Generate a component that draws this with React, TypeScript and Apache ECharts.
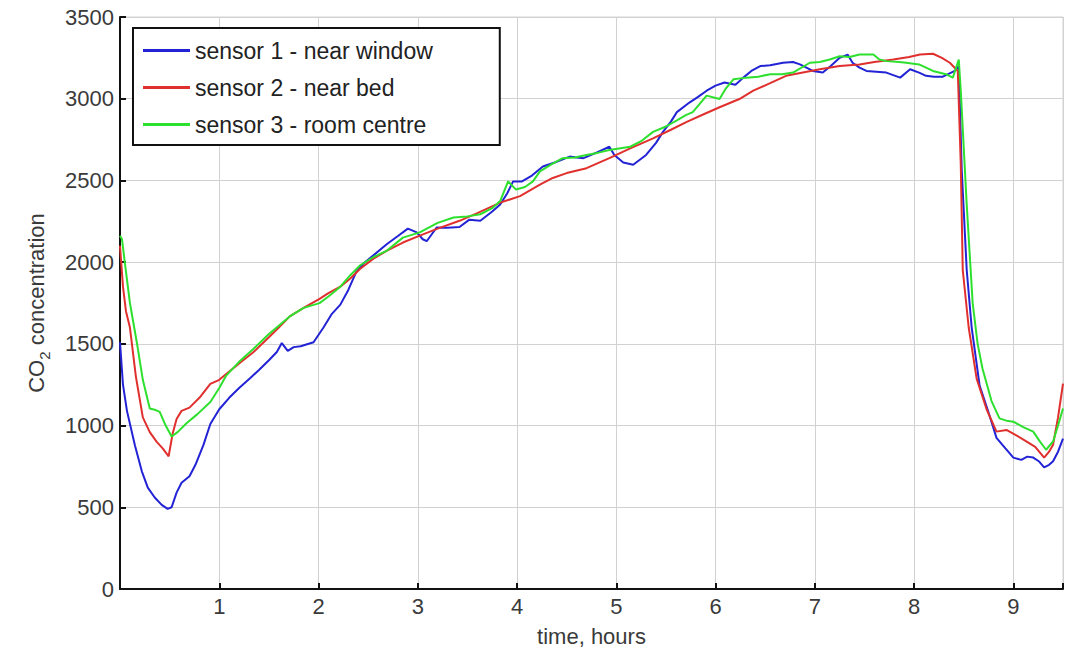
import React, { useEffect, useRef } from "react";
import * as echarts from "echarts";

const seriesNames = ["sensor 1 - near window", "sensor 2 - near bed", "sensor 3 - room centre"];
const seriesColors = ["#2323d6", "#e0302e", "#2ee02e"];

const hours1 = [0.00,0.03,0.07,0.15,0.22,0.28,0.35,0.42,0.48,0.52,0.57,0.62,0.70,0.76,0.84,0.91,1.00,1.10,1.20,1.31,1.40,1.50,1.58,1.63,1.69,1.75,1.82,1.95,2.05,2.13,2.22,2.30,2.38,2.45,2.55,2.69,2.80,2.90,2.99,3.05,3.09,3.19,3.30,3.42,3.52,3.63,3.75,3.83,3.90,3.96,4.05,4.15,4.26,4.38,4.53,4.60,4.67,4.80,4.93,4.98,5.07,5.17,5.30,5.40,5.47,5.55,5.61,5.74,5.82,5.91,6.00,6.09,6.20,6.28,6.36,6.45,6.55,6.68,6.78,6.85,6.98,7.08,7.16,7.25,7.33,7.38,7.45,7.52,7.62,7.72,7.86,7.96,8.05,8.12,8.20,8.29,8.41,8.45,8.48,8.53,8.58,8.66,8.75,8.83,8.92,9.00,9.08,9.14,9.20,9.26,9.31,9.36,9.40,9.45,9.50];
const co2Sensor1 = [1510,1250,1090,880,720,620,560,515,490,500,590,650,690,760,880,1010,1100,1170,1230,1290,1340,1400,1450,1505,1457,1480,1485,1510,1600,1680,1740,1830,1940,1990,2040,2111,2160,2205,2182,2140,2128,2212,2210,2215,2260,2253,2310,2353,2420,2494,2494,2530,2585,2610,2646,2640,2636,2670,2706,2656,2610,2596,2656,2730,2797,2860,2918,2978,3010,3049,3080,3099,3085,3129,3170,3200,3205,3220,3225,3210,3170,3160,3200,3250,3270,3220,3190,3170,3165,3160,3129,3180,3160,3140,3135,3135,3170,3200,2560,1952,1600,1245,1080,925,860,804,790,810,804,780,744,760,782,840,920];

const hours2 = [0.00,0.03,0.06,0.10,0.16,0.23,0.30,0.37,0.43,0.49,0.53,0.57,0.62,0.70,0.80,0.91,1.00,1.07,1.20,1.34,1.50,1.60,1.71,1.85,2.01,2.10,2.22,2.32,2.42,2.55,2.69,2.85,3.02,3.20,3.42,3.60,3.83,4.03,4.23,4.36,4.50,4.70,4.93,5.14,5.37,5.55,5.71,5.88,6.04,6.24,6.38,6.55,6.71,6.88,7.05,7.25,7.45,7.60,7.79,7.95,8.06,8.19,8.28,8.36,8.44,8.47,8.49,8.55,8.63,8.73,8.83,8.93,9.03,9.13,9.22,9.31,9.36,9.40,9.45,9.50];
const co2Sensor2 = [2100,1850,1700,1600,1300,1050,960,900,860,812,950,1040,1090,1110,1170,1255,1280,1316,1380,1447,1540,1600,1668,1720,1775,1810,1850,1900,1960,2020,2071,2120,2162,2205,2253,2300,2364,2404,2474,2515,2545,2575,2636,2696,2757,2810,2858,2905,2948,2998,3049,3095,3140,3160,3180,3200,3210,3225,3240,3255,3270,3275,3250,3220,3170,2600,1952,1600,1287,1100,963,973,940,903,870,804,840,883,1050,1257];

const hours3 = [0.00,0.02,0.05,0.10,0.17,0.23,0.30,0.36,0.40,0.46,0.52,0.58,0.67,0.78,0.91,1.00,1.07,1.20,1.34,1.50,1.71,1.85,2.01,2.10,2.22,2.32,2.42,2.55,2.69,2.85,3.02,3.20,3.36,3.50,3.63,3.75,3.83,3.91,3.99,4.08,4.16,4.23,4.35,4.46,4.58,4.70,4.82,4.93,5.14,5.25,5.37,5.50,5.61,5.70,5.77,5.91,6.04,6.10,6.18,6.31,6.43,6.55,6.67,6.78,6.95,7.05,7.15,7.25,7.35,7.45,7.59,7.65,7.72,7.85,7.92,8.05,8.12,8.19,8.32,8.39,8.45,8.47,8.53,8.59,8.64,8.69,8.78,8.86,8.93,9.00,9.10,9.20,9.27,9.33,9.40,9.45,9.50];
const co2Sensor3 = [2162,2140,1991,1750,1507,1280,1104,1095,1084,1000,933,960,1014,1070,1144,1230,1306,1390,1467,1560,1668,1720,1749,1790,1850,1920,1981,2030,2071,2150,2182,2240,2273,2280,2293,2330,2374,2494,2444,2460,2494,2555,2600,2636,2640,2656,2670,2686,2706,2740,2797,2830,2868,2900,2918,3019,2998,3060,3119,3129,3135,3150,3150,3160,3220,3225,3240,3260,3255,3270,3270,3240,3230,3225,3220,3210,3190,3170,3150,3129,3240,3050,2353,1749,1500,1346,1150,1044,1030,1024,990,963,900,852,903,1000,1104];

const allHours = [hours1, hours2, hours3];
const allValues = [co2Sensor1, co2Sensor2, co2Sensor3];

const FONT = "'Liberation Sans', Arial, Helvetica, sans-serif";

export default function App() {
  const ref = useRef<HTMLDivElement>(null);
  useEffect(() => {
    if (!ref.current) return;
    const chart = echarts.init(ref.current, null, { renderer: "svg" });
    chart.setOption({
      animation: false,
      backgroundColor: "#ffffff",
      textStyle: { fontFamily: FONT },
      grid: {
        left: 120,
        right: 11,
        top: 17,
        bottom: 56,
        show: true,
        borderColor: "#d2d2d2",
        borderWidth: 1,
      },
      legend: {
        data: seriesNames.map((n) => ({ name: n, icon: "rect" })),
        orient: "vertical",
        left: 133,
        top: 28,
        padding: [11, 67, 9, 10],
        itemGap: 14,
        itemWidth: 47,
        itemHeight: 3,
        backgroundColor: "#ffffff",
        borderColor: "#111111",
        borderWidth: 2,
        borderRadius: 0,
        textStyle: { fontSize: 23, color: "#222222", fontFamily: FONT, padding: [0, 0, 0, 0] },
      },
      xAxis: {
        type: "value",
        min: 0,
        max: 9.5,
        interval: 1,
        name: "time, hours",
        nameLocation: "middle",
        nameGap: 36,
        nameTextStyle: { fontSize: 22, color: "#3a3a3a", fontFamily: FONT },
        axisLine: { show: true, onZero: false, lineStyle: { color: "#111111", width: 2 } },
        axisTick: { show: true, inside: true, length: 6, lineStyle: { color: "#111111", width: 2 } },
        axisLabel: {
          fontSize: 22,
          color: "#3a3a3a",
          margin: 6,
          fontFamily: FONT,
          formatter: (v: number) => (v === 0 || Math.abs(v - Math.round(v)) > 1e-6 ? "" : String(Math.round(v))),
        },
        splitLine: { show: true, lineStyle: { color: "#d2d2d2", width: 1 } },
      },
      yAxis: {
        type: "value",
        min: 0,
        max: 3500,
        interval: 500,
        name: "CO{sub|2} concentration",
        nameLocation: "middle",
        nameGap: 68,
        nameTextStyle: {
          fontSize: 22,
          color: "#3a3a3a",
          fontFamily: FONT,
          rich: {
            sub: { fontSize: 15, color: "#3a3a3a", fontFamily: FONT, padding: [16, 0, 0, 0] },
          },
        },
        axisLine: { show: true, onZero: false, lineStyle: { color: "#111111", width: 2 } },
        axisTick: { show: true, inside: true, length: 6, lineStyle: { color: "#111111", width: 2 } },
        axisLabel: {
          fontSize: 22,
          color: "#3a3a3a",
          margin: 6,
          fontFamily: FONT,
          formatter: (v: number) => String(v),
        },
        splitLine: { show: true, lineStyle: { color: "#d2d2d2", width: 1 } },
      },
      series: seriesNames.map((name, i) => ({
        name,
        type: "line",
        data: allHours[i].map((h, j) => [h, allValues[i][j]]),
        showSymbol: false,
        symbol: "none",
        lineStyle: { color: seriesColors[i], width: 2 },
        itemStyle: { color: seriesColors[i] },
        z: 2 + i,
      })),
    });
    return () => chart.dispose();
  }, []);
  return (
    <div
      ref={ref}
      style={{ position: "fixed", left: 0, top: 0, width: 1074, height: 652, background: "#fff" }}
    />
  );
}
